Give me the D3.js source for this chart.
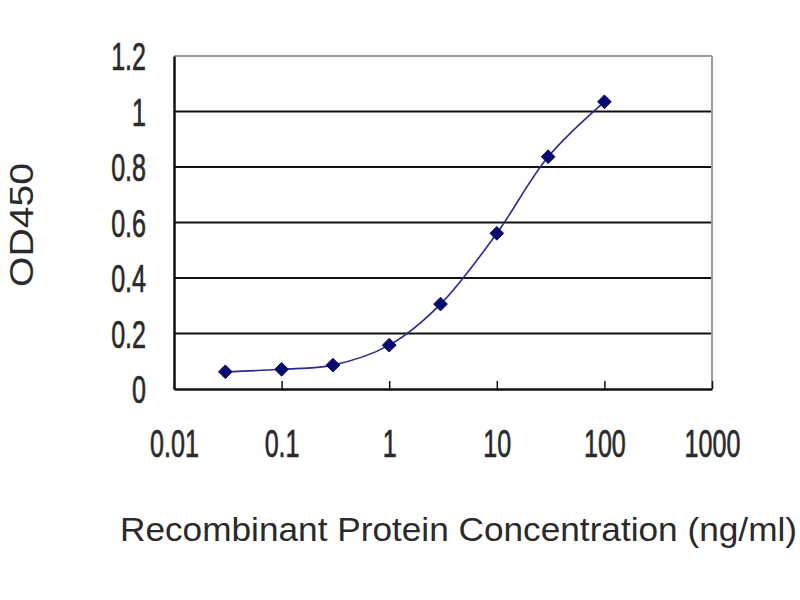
<!DOCTYPE html>
<html><head><meta charset="utf-8">
<script src="https://cdn.jsdelivr.net/npm/d3@7"></script>
<style>body{margin:0;background:#fff}svg{display:block}text{font-family:"Liberation Sans",Arial,sans-serif;fill:#2a2a2a}</style>
</head><body><svg id="c" width="800" height="600"></svg>
<script>
const concentrations = [0.03, 0.1, 0.3, 1, 3, 10, 30, 100];
const od450 = [0.062, 0.071, 0.086, 0.158, 0.306, 0.561, 0.837, 1.035];
const xTicks = [0.01, 0.1, 1, 10, 100, 1000];
const xTickLabels = ["0.01", "0.1", "1", "10", "100", "1000"];
const yTicks = [0, 0.2, 0.4, 0.6, 0.8, 1, 1.2];
const yTickLabels = ["0", "0.2", "0.4", "0.6", "0.8", "1", "1.2"];
const xTitle = "Recombinant Protein Concentration (ng/ml)";
const yTitle = "OD450";

const svg = d3.select("#c");
const L = 174, R = 712, T = 56, B = 389;
const SX = 0.66;
const x = d3.scaleLog().domain([0.01, 1000]).range([L, R]);
const y = d3.scaleLinear().domain([0, 1.2]).range([B, T]);

// gridlines
svg.append("g").selectAll("line").data(yTicks.filter(d => d > 0 && d < 1.2)).join("line")
  .attr("x1", L).attr("x2", R).attr("y1", d => y(d)).attr("y2", d => y(d))
  .attr("stroke", "#111").attr("stroke-width", 2);
// top/right border
svg.append("line").attr("x1", L).attr("x2", R).attr("y1", T).attr("y2", T).attr("stroke", "#9a9a9a").attr("stroke-width", 2);
svg.append("line").attr("x1", R).attr("x2", R).attr("y1", T).attr("y2", B).attr("stroke", "#9a9a9a").attr("stroke-width", 2);

// axes
const xAxis = d3.axisBottom(x).tickValues(xTicks).tickFormat("").tickSize(-8).tickSizeOuter(0);
const gx = svg.append("g").attr("transform", `translate(0,${B})`).call(xAxis);
gx.select(".domain").attr("stroke", "#111").attr("stroke-width", 2.5);
gx.selectAll(".tick line").attr("stroke", "#111").attr("stroke-width", 1.5);
gx.selectAll(".tick").append("text")
  .attr("y", 68).attr("x", 0).attr("text-anchor", "middle")
  .attr("transform", `scale(${SX},1)`)
  .attr("stroke", "#2a2a2a").attr("stroke-width", 0.7)
  .style("font-size", "38px")
  .text((d, i) => xTickLabels[i]);

const yAxis = d3.axisLeft(y).tickValues(yTicks).tickFormat("").tickSize(0).tickSizeOuter(0);
const gy = svg.append("g").attr("transform", `translate(${L},0)`).call(yAxis);
gy.select(".domain").attr("stroke", "#111").attr("stroke-width", 2.5);
gy.selectAll(".tick").append("text")
  .attr("x", -28 / SX).attr("dy", "0.36em").attr("text-anchor", "end")
  .attr("transform", `scale(${SX},1)`)
  .attr("stroke", "#2a2a2a").attr("stroke-width", 0.7)
  .style("font-size", "38px")
  .text((d, i) => yTickLabels[i]);

// line
const pts = concentrations.map((c, i) => [c, od450[i]]);
svg.append("path").datum(pts)
  .attr("d", d3.line().x(d => x(d[0])).y(d => y(d[1])).curve(d3.curveCatmullRom.alpha(0.5)))
  .attr("fill", "none").attr("stroke", "#2a2a8a").attr("stroke-width", 1.6);
// markers
svg.append("g").selectAll("path").data(pts).join("path")
  .attr("transform", d => `translate(${x(d[0])},${y(d[1])})`)
  .attr("d", d3.symbol(d3.symbolDiamond2, 120)())
  .attr("fill", "#0a0a6a").attr("stroke", "#0a0a6a").attr("stroke-width", 1);

// titles
svg.append("text").attr("x", 120).attr("y", 541).attr("textLength", 677).attr("lengthAdjust", "spacingAndGlyphs")
  .style("font-size", "34px").text(xTitle);
svg.append("text").attr("transform", "translate(33,225) rotate(-90)").attr("text-anchor", "middle")
  .attr("textLength", 124).attr("lengthAdjust", "spacingAndGlyphs")
  .style("font-size", "33px").text(yTitle);
</script></body></html>
